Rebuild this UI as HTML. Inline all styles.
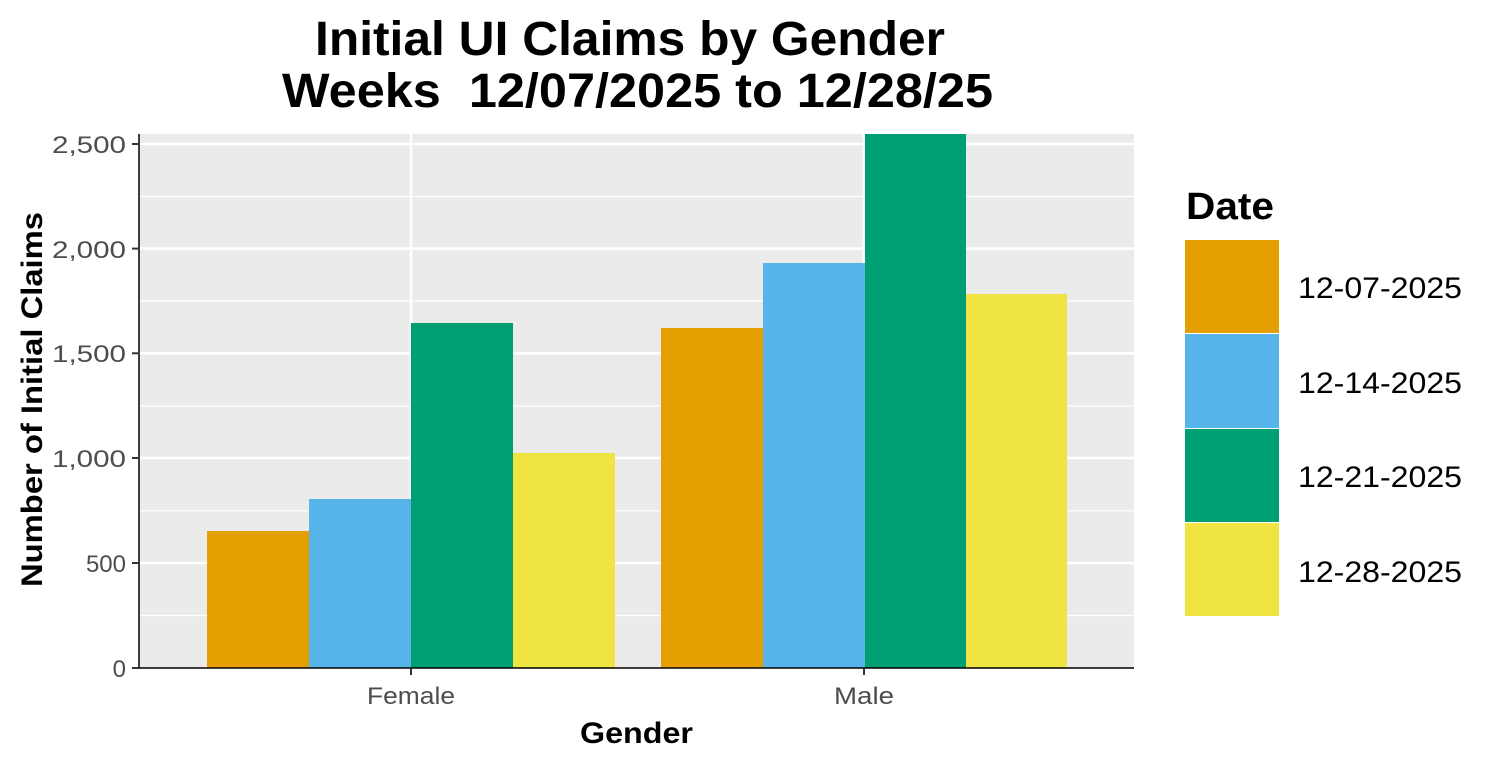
<!DOCTYPE html>
<html><head><style>body{margin:0;background:#fff}</style></head><body>
<svg width="1496" height="766" xmlns="http://www.w3.org/2000/svg" font-family="Liberation Sans, Arial, sans-serif">
<rect width="1496" height="766" fill="#fff"/>
<text x="315" y="55" font-size="48" font-weight="bold" textLength="630" lengthAdjust="spacingAndGlyphs">Initial UI Claims by Gender</text>
<text x="282" y="107" font-size="48" font-weight="bold" textLength="711" lengthAdjust="spacingAndGlyphs" xml:space="preserve">Weeks  12/07/2025 to 12/28/25</text>
<rect x="139" y="134" width="995" height="534" fill="#ebebeb"/>
<g stroke="#fff" stroke-width="1.2">
<line x1="139" x2="1134" y1="615.5" y2="615.5"/><line x1="139" x2="1134" y1="510.8" y2="510.8"/>
<line x1="139" x2="1134" y1="406" y2="406"/><line x1="139" x2="1134" y1="301" y2="301"/><line x1="139" x2="1134" y1="196.5" y2="196.5"/>
</g>
<g stroke="#fff" stroke-width="2.6">
<line x1="139" x2="1134" y1="563" y2="563"/><line x1="139" x2="1134" y1="458" y2="458"/>
<line x1="139" x2="1134" y1="353.3" y2="353.3"/><line x1="139" x2="1134" y1="248.6" y2="248.6"/><line x1="139" x2="1134" y1="144" y2="144"/>
<line x1="411" x2="411" y1="134" y2="668"/><line x1="864" x2="864" y1="134" y2="668"/>
</g>
<rect x="207" y="531" width="102" height="137" fill="#e69f00"/>
<rect x="309" y="499" width="102" height="169" fill="#56b4e9"/>
<rect x="411" y="323" width="102" height="345" fill="#009e73"/>
<rect x="513" y="453" width="102" height="215" fill="#f0e442"/>
<rect x="661" y="328" width="102" height="340" fill="#e69f00"/>
<rect x="763" y="263" width="102" height="405" fill="#56b4e9"/>
<rect x="865" y="134" width="101" height="534" fill="#009e73"/>
<rect x="966" y="294" width="101" height="374" fill="#f0e442"/>
<line x1="139" x2="139" y1="134" y2="668" stroke="#000" stroke-width="1.5"/>
<line x1="139" x2="1134" y1="668" y2="668" stroke="#000" stroke-width="1.5"/>
<g stroke="#333" stroke-width="2">
<line x1="132" x2="139" y1="668" y2="668"/><line x1="132" x2="139" y1="563" y2="563"/><line x1="132" x2="139" y1="458" y2="458"/>
<line x1="132" x2="139" y1="353.3" y2="353.3"/><line x1="132" x2="139" y1="248.6" y2="248.6"/><line x1="132" x2="139" y1="144" y2="144"/>
<line x1="411" x2="411" y1="668" y2="675"/><line x1="864" x2="864" y1="668" y2="675"/>
</g>
<g font-size="24" fill="#4d4d4d" text-anchor="end">
<text x="126" y="677">0</text><text x="126" y="572">500</text><text x="126" y="467" textLength="74" lengthAdjust="spacingAndGlyphs">1,000</text>
<text x="126" y="362" textLength="74" lengthAdjust="spacingAndGlyphs">1,500</text><text x="126" y="258" textLength="74" lengthAdjust="spacingAndGlyphs">2,000</text><text x="126" y="153" textLength="74" lengthAdjust="spacingAndGlyphs">2,500</text>
</g>
<g font-size="24" fill="#4d4d4d">
<text x="367" y="704" textLength="88" lengthAdjust="spacingAndGlyphs">Female</text><text x="834" y="704" textLength="60" lengthAdjust="spacingAndGlyphs">Male</text>
</g>
<text x="580" y="743" font-size="30" font-weight="bold" textLength="113" lengthAdjust="spacingAndGlyphs">Gender</text>
<text transform="translate(42,587) rotate(-90)" font-size="30" font-weight="bold" textLength="375" lengthAdjust="spacingAndGlyphs">Number of Initial Claims</text>
<text x="1186" y="219" font-size="38" font-weight="bold" textLength="88" lengthAdjust="spacingAndGlyphs">Date</text>
<rect x="1185" y="240" width="94" height="93" fill="#e69f00"/>
<rect x="1185" y="334" width="94" height="94" fill="#56b4e9"/>
<rect x="1185" y="429" width="94" height="93" fill="#009e73"/>
<rect x="1185" y="523" width="94" height="93" fill="#f0e442"/>
<g font-size="30">
<text x="1298" y="298" textLength="164" lengthAdjust="spacingAndGlyphs">12-07-2025</text><text x="1298" y="393" textLength="164" lengthAdjust="spacingAndGlyphs">12-14-2025</text>
<text x="1298" y="487" textLength="164" lengthAdjust="spacingAndGlyphs">12-21-2025</text><text x="1298" y="582" textLength="164" lengthAdjust="spacingAndGlyphs">12-28-2025</text>
</g>
</svg>
</body></html>
